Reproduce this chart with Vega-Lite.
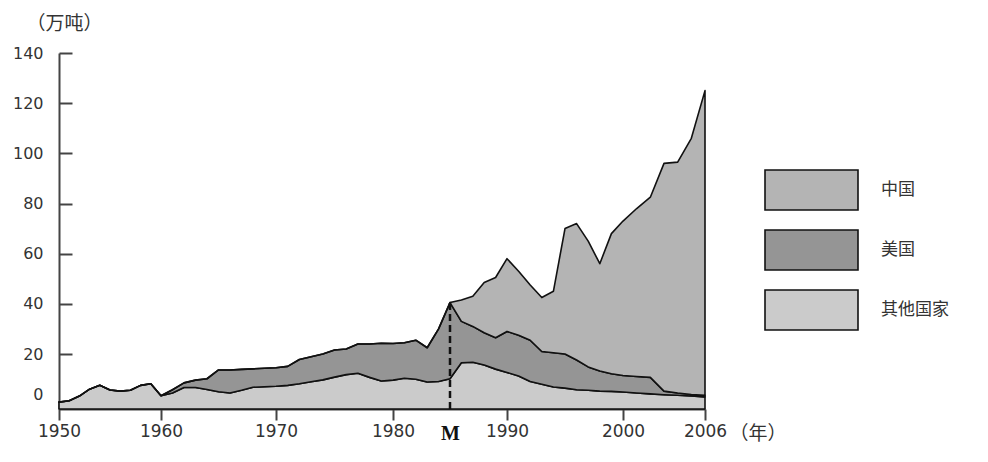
{
  "$schema": "https://vega.github.io/schema/vega-lite/v6.json",
  "width": 646,
  "height": 356,
  "autosize": {"type": "none"},
  "padding": {"left": 59, "top": 53, "right": 283, "bottom": 53},
  "background": "white",
  "config": {"view": {"stroke": null}, "font": "DejaVu Sans"},
  "datasets": {
    "rank": [
      {"国家": "其他国家", "r": 1},
      {"国家": "美国", "r": 2},
      {"国家": "中国", "r": 3}
    ],
    "prod": [
      {"year": 1950, "其他国家": 2.5, "美国": 0, "中国": 0},
      {"year": 1951, "其他国家": 3.0, "美国": 0, "中国": 0},
      {"year": 1952, "其他国家": 4.7, "美国": 0, "中国": 0},
      {"year": 1953, "其他国家": 7.2, "美国": 0, "中国": 0},
      {"year": 1954, "其他国家": 8.6, "美国": 0, "中国": 0},
      {"year": 1955, "其他国家": 6.9, "美国": 0, "中国": 0},
      {"year": 1956, "其他国家": 6.5, "美国": 0, "中国": 0},
      {"year": 1957, "其他国家": 6.8, "美国": 0, "中国": 0},
      {"year": 1958, "其他国家": 8.6, "美国": 0, "中国": 0},
      {"year": 1959, "其他国家": 9.2, "美国": 0, "中国": 0},
      {"year": 1960, "其他国家": 4.8, "美国": 0, "中国": 0},
      {"year": 1961, "其他国家": 5.8, "美国": 1.2, "中国": 0},
      {"year": 1962, "其他国家": 7.8, "美国": 1.7, "中国": 0},
      {"year": 1963, "其他国家": 7.8, "美国": 2.7, "中国": 0},
      {"year": 1964, "其他国家": 7.1, "美国": 3.9, "中国": 0},
      {"year": 1965, "其他国家": 6.3, "美国": 7.9, "中国": 0},
      {"year": 1966, "其他国家": 5.8, "美国": 8.4, "中国": 0},
      {"year": 1967, "其他国家": 6.8, "美国": 7.6, "中国": 0},
      {"year": 1968, "其他国家": 7.9, "美国": 6.7, "中国": 0},
      {"year": 1969, "其他国家": 8.1, "美国": 6.7, "中国": 0},
      {"year": 1970, "其他国家": 8.3, "美国": 6.7, "中国": 0},
      {"year": 1971, "其他国家": 8.6, "美国": 6.9, "中国": 0},
      {"year": 1972, "其他国家": 9.2, "美国": 8.8, "中国": 0},
      {"year": 1973, "其他国家": 9.9, "美国": 9.1, "中国": 0},
      {"year": 1974, "其他国家": 10.6, "美国": 9.4, "中国": 0},
      {"year": 1975, "其他国家": 11.6, "美国": 10.0, "中国": 0},
      {"year": 1976, "其他国家": 12.5, "美国": 9.5, "中国": 0},
      {"year": 1977, "其他国家": 13.0, "美国": 11.0, "中国": 0},
      {"year": 1978, "其他国家": 11.5, "美国": 12.5, "中国": 0},
      {"year": 1979, "其他国家": 10.2, "美国": 14.1, "中国": 0},
      {"year": 1980, "其他国家": 10.5, "美国": 13.7, "中国": 0},
      {"year": 1981, "其他国家": 11.2, "美国": 13.3, "中国": 0},
      {"year": 1982, "其他国家": 10.8, "美国": 14.7, "中国": 0},
      {"year": 1983, "其他国家": 9.8, "美国": 12.7, "中国": 0},
      {"year": 1984, "其他国家": 10.0, "美国": 20.0, "中国": 0},
      {"year": 1985, "其他国家": 11.0, "美国": 29.5, "中国": 0},
      {"year": 1986, "其他国家": 16.8, "美国": 16.2, "中国": 8.5},
      {"year": 1987, "其他国家": 17.0, "美国": 14.0, "中国": 12.0},
      {"year": 1988, "其他国家": 16.0, "美国": 12.5, "中国": 20.0},
      {"year": 1989, "其他国家": 14.5, "美国": 12.0, "中国": 24.0},
      {"year": 1990, "其他国家": 13.3, "美国": 15.7, "中国": 29.0},
      {"year": 1991, "其他国家": 12.0, "美国": 15.5, "中国": 25.5},
      {"year": 1992, "其他国家": 10.0, "美国": 15.5, "中国": 22.0},
      {"year": 1993, "其他国家": 9.0, "美国": 12.0, "中国": 21.5},
      {"year": 1994, "其他国家": 8.0, "美国": 12.5, "中国": 24.5},
      {"year": 1995, "其他国家": 7.6, "美国": 12.4, "中国": 50.0},
      {"year": 1996, "其他国家": 7.0, "美国": 10.8, "中国": 54.2},
      {"year": 1997, "其他国家": 6.8, "美国": 8.5, "中国": 49.7},
      {"year": 1998, "其他国家": 6.5, "美国": 7.3, "中国": 42.2},
      {"year": 1999, "其他国家": 6.4, "美国": 6.4, "中国": 55.2},
      {"year": 2000, "其他国家": 6.2, "美国": 6.0, "中国": 60.8},
      {"year": 2001, "其他国家": 5.8, "美国": 6.0, "中国": 66.2},
      {"year": 2002, "其他国家": 5.5, "美国": 6.0, "中国": 71.0},
      {"year": 2003, "其他国家": 5.2, "美国": 1.3, "中国": 89.5},
      {"year": 2004, "其他国家": 5.0, "美国": 0.8, "中国": 90.7},
      {"year": 2005, "其他国家": 4.7, "美国": 0.6, "中国": 100.7},
      {"year": 2006, "其他国家": 4.4, "美国": 0.6, "中国": 120.0}
    ]
  },
  "layer": [
    {
      "data": {"name": "prod"},
      "transform": [
        {"fold": ["其他国家", "美国", "中国"], "as": ["国家", "产量"]},
        {"lookup": "国家", "from": {"data": {"name": "rank"}, "key": "国家", "fields": ["r"]}}
      ],
      "mark": {"type": "area", "stroke": "#111", "strokeWidth": 1.6, "strokeJoin": "round", "opacity": 1},
      "encoding": {
        "x": {
          "field": "year",
          "type": "quantitative",
          "scale": {"domain": [1950, 1960, 1970, 1980, 1990, 2000, 2006], "range": [0, 102, 217, 334, 448, 564, 646], "nice": false, "zero": false},
          "axis": {
            "title": "（年）",
            "titleX": 670,
            "titleY": 24,
            "titleAlign": "left",
            "titleBaseline": "middle",
            "titleAngle": 0,
            "titleFont": "Noto Sans CJK SC",
            "titleFontSize": 19,
            "titleFontWeight": "normal",
            "titleColor": "#333",
            "values": [1950, 1960, 1970, 1980, 1985, 1990, 2000, 2006],
            "format": "d",
            "labelExpr": "datum.value == 1985 ? 'M' : datum.label",
            "labelOverlap": false,
            "labelFlush": false,
            "labelBound": false,
            "grid": false,
            "domainColor": "#444",
            "domainWidth": 2,
            "tickColor": "#444",
            "tickWidth": 2,
            "tickSize": 11,
            "labelPadding": 3,
            "labelFontSize": {"condition": {"test": "datum.value == 1985", "value": 20}, "value": 17},
            "labelFont": {"condition": {"test": "datum.value == 1985", "value": "Liberation Serif"}, "value": "DejaVu Sans"},
            "labelFontWeight": {"condition": {"test": "datum.value == 1985", "value": "bold"}, "value": "normal"},
            "labelColor": {"condition": {"test": "datum.value == 1985", "value": "#111"}, "value": "#333"},
            "tickOpacity": {"condition": {"test": "datum.value == 1985", "value": 0}, "value": 1}
          }
        },
        "y": {
          "field": "产量",
          "type": "quantitative",
          "stack": "zero",
          "scale": {"domain": [0, 20, 140], "range": [356, 301, 0], "nice": false, "zero": false},
          "axis": {
            "title": "（万吨）",
            "titleAngle": 0,
            "titleX": -33,
            "titleY": -30,
            "titleAlign": "left",
            "titleBaseline": "middle",
            "titleFont": "Noto Sans CJK SC",
            "titleFontSize": 19,
            "titleFontWeight": "normal",
            "titleColor": "#333",
            "values": [0, 20, 40, 60, 80, 100, 120, 140],
            "labelOverlap": false,
            "labelFlush": false,
            "labelBound": false,
            "grid": false,
            "domainColor": "#444",
            "domainWidth": 2,
            "tickColor": "#444",
            "tickWidth": 2,
            "tickSize": -13,
            "labelPadding": 29,
            "labelFontSize": 16,
            "labelColor": "#333",
            "labelOffset": {"condition": {"test": "datum.value == 0", "value": -15}, "value": 0},
            "tickOpacity": {"condition": {"test": "datum.value == 0", "value": 0}, "value": 1}
          }
        },
        "color": {
          "field": "国家",
          "type": "nominal",
          "scale": {"domain": ["中国", "美国", "其他国家"], "range": ["#b4b4b4", "#959595", "#cbcbcb"]},
          "legend": {
            "orient": "none",
            "legendX": 705,
            "legendY": 107,
            "title": null,
            "padding": 0,
            "symbolType": "M-1,-0.43H1V0.43H-1Z",
            "symbolSize": 8649,
            "symbolStrokeColor": "#111",
            "symbolStrokeWidth": 1.6,
            "symbolOpacity": 1,
            "labelFont": "Noto Sans CJK SC",
            "labelFontSize": 17,
            "labelColor": "#333",
            "labelOffset": 22,
            "clipHeight": 60,
            "rowPadding": 0
          }
        },
        "order": {"field": "r", "type": "quantitative"}
      }
    },
    {
      "data": {"values": [{"year": 1985, "bottom": 0, "top": 40.5}]},
      "mark": {"type": "rule", "strokeDash": [7, 4], "strokeWidth": 2.5, "color": "#111"},
      "encoding": {
        "x": {"field": "year", "type": "quantitative"},
        "y": {"field": "bottom", "type": "quantitative"},
        "y2": {"field": "top"}
      }
    }
  ]
}
